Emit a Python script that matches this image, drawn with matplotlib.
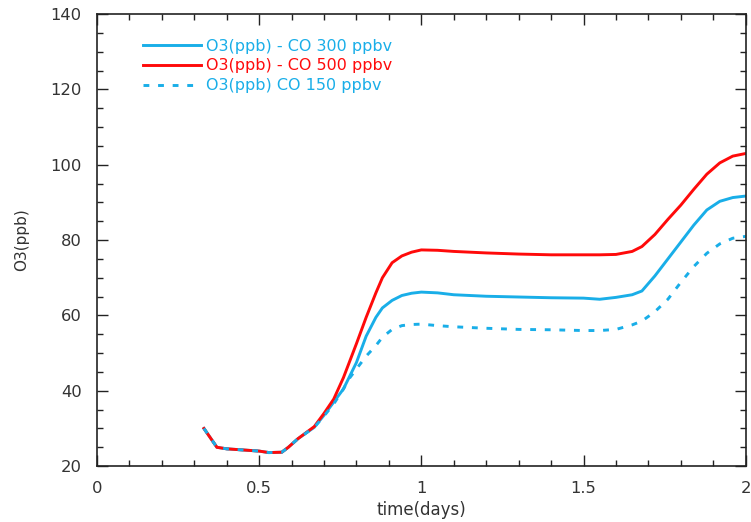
import matplotlib
matplotlib.use("Agg")
import matplotlib.pyplot as plt
from matplotlib.ticker import MultipleLocator

plt.rcParams['font.family'] = ['DejaVu Sans']

# Simulation time (days)
time_days = [0.33, 0.37, 0.40, 0.45, 0.50, 0.53, 0.57, 0.59, 0.62, 0.67,
             0.70, 0.73, 0.76, 0.78, 0.80, 0.83, 0.86, 0.88, 0.91, 0.94,
             0.97, 1.00, 1.05, 1.10, 1.20, 1.30, 1.40, 1.50, 1.55, 1.60,
             1.65, 1.68, 1.72, 1.76, 1.80, 1.84, 1.88, 1.92, 1.96, 2.00]

# O3 (ppb) for the CO 300 ppbv run
o3_co300 = [30.0, 25.0, 24.6, 24.3, 24.0, 23.6, 23.7, 25.0, 27.3, 30.3,
            33.5, 37.0, 40.5, 44.0, 47.5, 54.5, 59.5, 62.0, 64.0, 65.3,
            65.9, 66.2, 66.0, 65.5, 65.1, 64.9, 64.7, 64.6, 64.3, 64.8,
            65.5, 66.5, 70.5, 75.0, 79.5, 84.0, 88.0, 90.3, 91.3, 91.7]

# O3 (ppb) for the CO 500 ppbv run
o3_co500 = [30.0, 25.0, 24.6, 24.3, 24.0, 23.6, 23.7, 25.0, 27.3, 30.5,
            34.0, 37.8, 43.5, 48.0, 52.5, 59.5, 66.0, 70.0, 74.0, 75.8,
            76.8, 77.4, 77.3, 77.0, 76.6, 76.3, 76.1, 76.1, 76.1, 76.2,
            77.0, 78.3, 81.5, 85.5, 89.3, 93.5, 97.5, 100.5, 102.3, 103.0]

# O3 (ppb) for the CO 150 ppbv run
o3_co150 = [30.0, 25.0, 24.6, 24.3, 24.0, 23.6, 23.7, 25.0, 27.3, 30.3,
            33.3, 36.5, 40.5, 43.5, 45.8, 49.2, 52.0, 54.2, 56.3, 57.3,
            57.6, 57.7, 57.3, 57.0, 56.6, 56.3, 56.2, 56.0, 56.0, 56.3,
            57.5, 58.5, 61.0, 64.3, 68.8, 73.0, 76.5, 79.0, 80.5, 81.0]

series_labels = ["O3(ppb) - CO 300 ppbv", "O3(ppb) - CO 500 ppbv", "O3(ppb) CO 150 ppbv"]
x_tick_labels = ["0", "0.5", "1", "1.5", "2"]

BLUE = "#19aee8"
RED = "#ff0a0a"

fig = plt.figure(figsize=(7.51, 5.22), dpi=100)
ax = fig.add_axes([0.129, 0.107, 0.864, 0.866])

ax.plot(time_days, o3_co300, color=BLUE, lw=2.1, label=series_labels[0])
ax.plot(time_days, o3_co500, color=RED, lw=2.1, label=series_labels[1])
ax.plot(time_days, o3_co150, color=BLUE, lw=2.1, ls=(0, (2, 3)), label=series_labels[2])

ax.set_xlim(0, 2)
ax.set_ylim(20, 140)
ax.xaxis.set_major_locator(MultipleLocator(0.5))
ax.xaxis.set_minor_locator(MultipleLocator(0.1))
ax.yaxis.set_major_locator(MultipleLocator(20))
ax.yaxis.set_minor_locator(MultipleLocator(5))
ax.set_xticks([0, 0.5, 1, 1.5, 2], x_tick_labels)

ax.tick_params(which='both', direction='in', top=True, right=True,
               color='#222222', width=1.0, labelsize=11.8, labelcolor='#333333')
ax.tick_params(which='major', length=8)
ax.tick_params(which='minor', length=4)
ax.tick_params(axis='y', which='major', pad=11)
ax.tick_params(axis='x', which='major', pad=11)

for sp in ax.spines.values():
    sp.set_color('#222222')
    sp.set_linewidth(1.2)

ax.set_xlabel("time(days)", fontsize=12, color='#333333')
ax.set_ylabel("O3(ppb)", fontsize=11, color='#333333')
ax.xaxis.set_label_coords(0.5, -0.077)
ax.yaxis.set_label_coords(-0.104, 0.5)

leg = ax.legend(loc='upper left', bbox_to_anchor=(0.062, 0.96), frameon=False,
                fontsize=11.5, handlelength=3.6, handletextpad=0.3,
                labelspacing=0.3, borderaxespad=0)
for txt, line in zip(leg.get_texts(), leg.get_lines()):
    txt.set_color(line.get_color())

fig.savefig("out.png", dpi=100)
